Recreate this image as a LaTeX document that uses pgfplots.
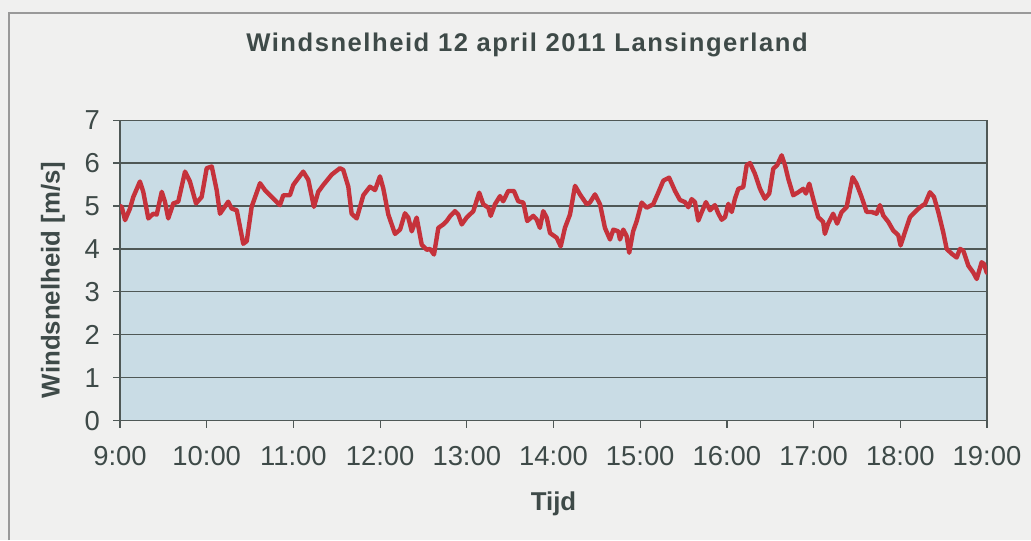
\documentclass[border=0pt]{standalone}
\usepackage{pgfplots}
\pgfplotsset{compat=1.18}
\usepackage{fontspec}
\setmainfont{Liberation Sans}
\newfontfamily\titlefont[LetterSpace=6]{Liberation Sans}
\definecolor{bgc}{HTML}{F0F0EF}
\definecolor{plotbg}{HTML}{C9DCE5}
\definecolor{txt}{HTML}{3E4A48}
\definecolor{gridc}{HTML}{4F5856}
\definecolor{linec}{HTML}{C5323B}
\begin{document}
\begin{tikzpicture}
\useasboundingbox (0pt,0pt) rectangle (515.5pt,270pt);
\fill[bgc] (0pt,0pt) rectangle (515.5pt,270pt);
\draw[color=gray!80, line width=0.6pt] (4.5pt,0pt) -- (4.5pt,263.5pt) -- (515.5pt,263.5pt);
\node[text=txt, anchor=base, font=\titlefont\bfseries\fontsize{12.8}{14}\selectfont] at (263.5pt,244pt) {Windsnelheid 12 april 2011 Lansingerland};
\begin{axis}[
  at={(60pt,59.65pt)}, anchor=south west,
  scale only axis, width=433.5pt, height=150.3pt,
  xmin=0, xmax=600, ymin=0, ymax=7,
  axis background/.style={fill=plotbg},
  axis line style={color=gridc, line width=0.6pt},
  xtick={0,60,...,600},
  xticklabels={9:00,10:00,11:00,12:00,13:00,14:00,15:00,16:00,17:00,18:00,19:00},
  ytick={0,1,...,7},
  ymajorgrids, grid style={color=gridc, line width=0.6pt},
  tick align=outside, major tick length=3.5pt,
  tick style={color=gridc, line width=0.6pt},
  xtick pos=bottom, ytick pos=left,
  /pgf/number format/assume math mode=true,
  tick label style={text=txt, font=\fontsize{13.7}{15}\selectfont},
  xticklabel style={yshift=-6pt},
  yticklabel style={xshift=-3pt},
  xlabel={\textbf{Tijd}}, ylabel={\textbf{Windsnelheid [m/s]}},
  label style={text=txt, font=\fontsize{12.9}{14}\selectfont},
  xlabel style={yshift=-6pt},
  ylabel style={yshift=3pt, xshift=-4.75pt},
]
\addplot[color=linec, line width=2.2pt, line join=round, line cap=round] coordinates {
(0,5.00)(1.2,4.98)(3.5,4.67)(6.9,4.94)(9.2,5.21)(13.8,5.57)(16.1,5.33)(19.6,4.71)
(23.0,4.82)(25.4,4.80)(28.9,5.33)(31.1,5.10)(33.4,4.71)(36.9,5.06)(40.3,5.10)
(45.0,5.80)(48.4,5.57)(52.6,5.06)(56.5,5.21)(60.0,5.88)(63.5,5.92)(66.9,5.37)
(69.2,4.82)(74.9,5.10)(77.3,4.94)(80.8,4.90)(85.3,4.12)(87.7,4.18)(91.1,4.98)
(96.9,5.53)(100.3,5.37)(103.8,5.25)(107.3,5.13)(110.7,5.02)(113.0,5.25)(117.6,5.25)
(119.9,5.49)(123.4,5.65)(126.8,5.80)(130.3,5.61)(134.2,4.98)(137.2,5.33)(140.7,5.49)
(146.5,5.73)(152.2,5.88)(154.5,5.84)(158.0,5.45)(160.3,4.82)(163.8,4.71)(168.4,5.25)
(173.0,5.45)(176.5,5.37)(179.9,5.69)(182.2,5.41)(185.7,4.80)(190.3,4.35)(193.8,4.45)
(197.2,4.83)(199.5,4.73)(201.9,4.41)(205.3,4.73)(208.8,4.10)(212.3,3.98)(214.5,4.00)
(217.3,3.87)(220.3,4.49)(223.7,4.57)(226.1,4.65)(228.4,4.76)(231.8,4.88)(234.1,4.80)
(236.5,4.57)(239.9,4.73)(244.5,4.88)(248.6,5.31)(251.4,5.04)(254.9,4.96)(256.5,4.77)
(259.5,5.04)(263.0,5.23)(265.2,5.11)(268.7,5.35)(272.6,5.35)(275.6,5.11)(279.1,5.08)
(281.8,4.65)(286.0,4.77)(288.3,4.69)(290.6,4.49)(292.9,4.88)(295.3,4.73)(297.6,4.37)
(302.2,4.26)(305.0,4.06)(307.9,4.49)(311.4,4.80)(314.9,5.47)(318.3,5.27)(323.0,5.04)
(325.2,5.08)(328.7,5.27)(332.2,5.04)(335.6,4.49)(339.1,4.22)(341.4,4.45)(344.8,4.41)
(346.0,4.22)(348.3,4.45)(350.6,4.30)(352.4,3.91)(355.1,4.41)(357.6,4.65)(361.0,5.08)
(364.5,4.96)(369.0,5.04)(372.5,5.31)(376.0,5.59)(380.0,5.66)(384.1,5.35)(387.5,5.14)
(391.0,5.09)(393.3,4.97)(395.6,5.16)(397.9,5.09)(400.2,4.66)(402.6,4.86)(405.5,5.09)
(408.3,4.90)(411.7,5.02)(414.0,4.83)(416.4,4.68)(418.7,4.74)(421.0,5.05)(423.3,4.86)
(425.6,5.17)(427.9,5.40)(431.3,5.44)(433.7,5.95)(436.0,6.00)(439.4,5.75)(442.9,5.40)
(446.3,5.17)(449.3,5.29)(452.1,5.87)(454.8,5.95)(457.9,6.18)(460.2,5.95)(462.5,5.63)
(465.9,5.25)(469.4,5.32)(472.8,5.40)(474.7,5.29)(477.0,5.52)(479.7,5.17)(483.2,4.74)
(486.6,4.63)(487.8,4.35)(490.1,4.59)(493.5,4.82)(496.3,4.59)(499.4,4.86)(502.8,4.97)
(507.0,5.67)(509.7,5.52)(513.2,5.21)(516.7,4.86)(520.2,4.86)(523.6,4.82)(525.9,5.02)
(528.2,4.78)(531.7,4.63)(535.1,4.43)(538.6,4.32)(540.2,4.08)(543.2,4.39)(546.7,4.74)
(550.1,4.86)(553.6,4.97)(557.1,5.05)(560.5,5.32)(563.3,5.21)(566.3,4.86)(569.7,4.39)
(572.1,4.00)(575.5,3.89)(579.0,3.80)(581.3,4.00)(583.6,3.96)(587.1,3.61)(590.5,3.45)
(592.9,3.30)(596.3,3.69)(597.9,3.65)(599.8,3.45)
};
\end{axis}
\end{tikzpicture}
\end{document}
